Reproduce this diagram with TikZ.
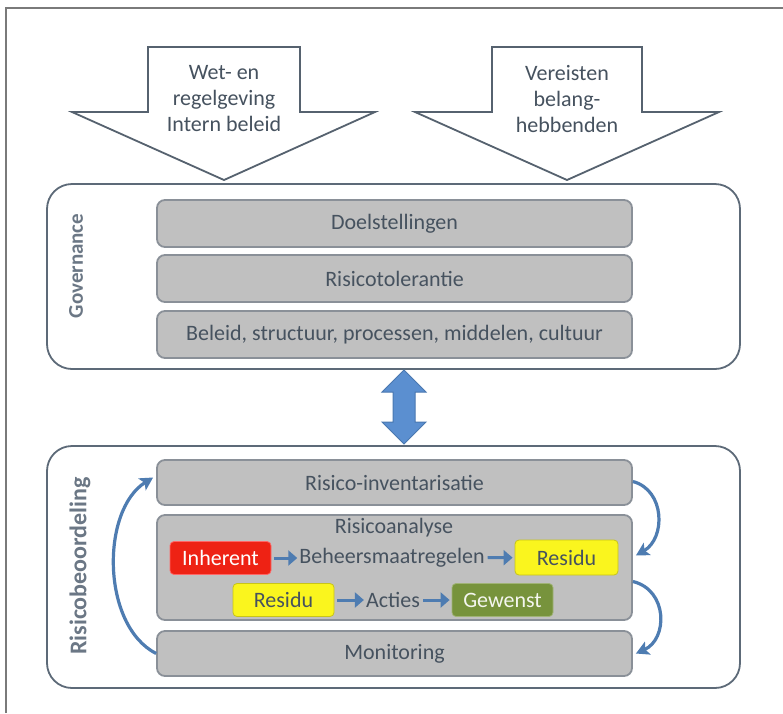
\documentclass[tikz,border=0pt]{standalone}
\usepackage{fontspec}
\setmainfont{Carlito}
\usetikzlibrary{arrows.meta,calc}
\definecolor{framec}{HTML}{7A7A7A}
\definecolor{outerc}{HTML}{5D6A78}
\definecolor{innerfill}{HTML}{C0C0C0}
\definecolor{innerdraw}{HTML}{8A9098}
\definecolor{txtc}{HTML}{46525F}
\definecolor{sidec}{HTML}{6B7785}
\definecolor{bluef}{HTML}{5B8FD0}
\definecolor{blued}{HTML}{4A78B0}
\definecolor{curvec}{HTML}{4E7CB1}
\definecolor{redc}{HTML}{EE2214}
\definecolor{yelc}{HTML}{FAF51E}
\definecolor{grnc}{HTML}{77933C}
\definecolor{arrowdraw}{HTML}{56626F}
\begin{document}
\begin{tikzpicture}[x=1pt,y=-1pt,
  every node/.style={font=\fontsize{22}{26}\selectfont, text=txtc},
  inarrow/.style={draw=arrowdraw, line width=1.8pt, fill=white, line join=miter},
  arrowtext/.style={align=center, inner sep=0pt},
  outerbox/.style={draw=outerc, line width=1.8pt, fill=white, rounded corners=25pt, minimum width=693pt},
  innerbox/.style={draw=innerdraw, line width=1.8pt, fill=innerfill, rounded corners=8pt, minimum width=475pt, inner sep=0pt},
  sidelabel/.style={text=sidec, rotate=90, inner sep=0pt},
  tagbox/.style={rounded corners=4pt, minimum width=101pt, minimum height=33pt, inner sep=0pt, line width=0.8pt},
  rowarrow/.style={draw=curvec, line width=3pt, -{Triangle[length=9pt,width=15pt]}, shorten <=3pt, shorten >=2pt},
  curvearrow/.style={draw=curvec, line width=3.2pt, -{Stealth[length=13pt,width=14pt,inset=3pt]}}
]
\useasboundingbox (0,0) rectangle (783,713);
\fill[white] (0,0) rectangle (783,713);
\draw[framec, line width=1.2pt] (6,713) -- (6,8) -- (783,8);

% input arrows
\draw[inarrow] (148,47) -- (300,47) -- (300,112) -- (375,112) -- (224,180) -- (72,112) -- (148,112) -- cycle;
\node[arrowtext] (wet) at (224,99) {Wet- en\\regelgeving\\Intern beleid};
\draw[inarrow] (492,47) -- (642,47) -- (642,112) -- (719,112) -- (567,180) -- (415,112) -- (492,112) -- cycle;
\node[arrowtext] (ver) at (567,99) {Vereisten\\belang-\\hebbenden};

% governance
\node[outerbox, minimum height=185pt] (gov) at (393.5,276.5) {};
\node[sidelabel, font=\fontsize{21}{26}\selectfont\bfseries] (govlab) at (76,266) {Governance};
\node[innerbox, minimum height=47pt] (doel) at (394.5,223.5) {Doelstellingen};
\node[innerbox, minimum height=47pt] (tol) at (394.5,278.5) {Risicotolerantie};
\node[innerbox, minimum height=47pt] (bel) at (394.5,334.5) {Beleid, structuur, processen, middelen, cultuur};

% double arrow
\draw[draw=blued, fill=bluef, line width=1pt, line join=miter]
  (404,370) -- (426,392) -- (415,392) -- (415,422) -- (426,422) -- (404,444)
  -- (382,422) -- (393,422) -- (393,392) -- (382,392) -- cycle;

% risicobeoordeling
\node[outerbox, minimum height=242pt] (risk) at (393.5,567) {};
\node[sidelabel, font=\fontsize{24}{28}\selectfont\bfseries] (risklab) at (80,566) {Risicobeoordeling};
\node[innerbox, minimum height=45pt] (inv) at (394.5,482.5) {Risico-inventarisatie};
\node[innerbox, minimum height=105pt] (ana) at (394.5,567.5) {};
\node[inner sep=0pt] (anatitle) at (394,528) {Risicoanalyse};
\node[innerbox, minimum height=45pt] (mon) at (394.5,653.5) {Monitoring};

\node[tagbox, fill=redc, draw=red!60!white, text=white] (inh) at (220.5,558) {Inherent};
\node[inner sep=0pt] (beh) at (392,558) {Beheersmaatregelen};
\node[tagbox, fill=yelc, draw=yelc!80!black, minimum width=103pt, minimum height=35pt] (res1) at (566.5,557.5) {Residu};
\node[tagbox, fill=yelc, draw=yelc!80!black] (res2) at (283.5,600) {Residu};
\node[inner sep=0pt] (act) at (393,600) {Acties};
\node[tagbox, fill=grnc, draw=grnc!70!white, text=white!92!grnc] (gew) at (502.5,600) {Gewenst};

\draw[rowarrow] (inh) -- (beh);
\draw[rowarrow] (beh) -- (res1);
\draw[rowarrow] (res2) -- (act);
\draw[rowarrow] (act) -- (gew);

% cycle arrows
\draw[curvearrow] ([yshift=1pt]inv.east) .. controls (665,490) and (666,538) .. ([xshift=3pt,yshift=12pt]ana.east);
\draw[curvearrow] ([yshift=-14pt]ana.east) .. controls (668,590) and (668,639) .. ([xshift=3pt]mon.east);
\draw[curvearrow] (mon.west) .. controls (101,625) and (101,510) .. ([xshift=-3pt,yshift=5pt]inv.west);
\end{tikzpicture}
\end{document}
